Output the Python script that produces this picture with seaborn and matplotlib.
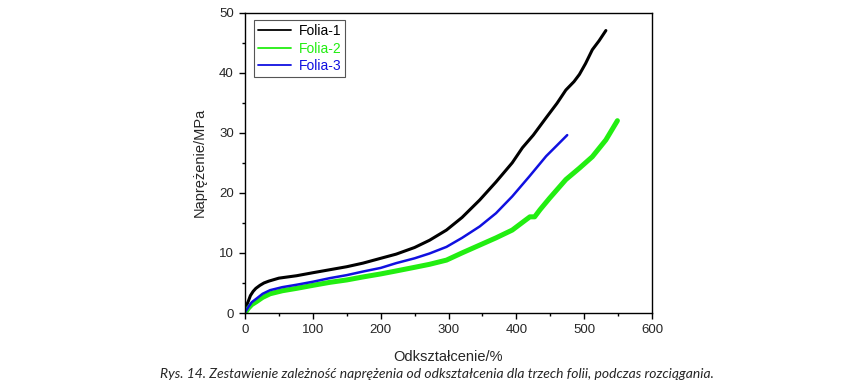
import matplotlib
matplotlib.use("Agg")
import matplotlib.pyplot as plt
from matplotlib.lines import Line2D
from matplotlib.ticker import MultipleLocator
import seaborn as sns
import pandas as pd

# values
folia1_x = [0, 2, 5, 8, 12, 16, 22, 28, 35, 50, 76, 100, 125, 150, 174, 200, 223, 250, 272, 297,
            320, 346, 370, 394, 409, 425, 444, 460, 473, 485, 493, 502, 512, 522, 532]
folia1_y = [0.5, 1.2, 2.0, 2.9, 3.6, 4.1, 4.6, 5.0, 5.3, 5.8, 6.2, 6.7, 7.2, 7.7, 8.3, 9.1, 9.8,
            10.9, 12.1, 13.8, 15.9, 18.8, 21.8, 25.0, 27.5, 29.6, 32.5, 34.9, 37.1, 38.5, 39.7,
            41.5, 43.8, 45.3, 47.0]

folia2_x = [0, 5, 10, 17, 26, 37, 55, 76, 100, 125, 150, 174, 200, 223, 250, 272, 297, 320, 346,
            370, 394, 414, 420, 427, 435, 449, 473, 493, 512, 532, 549]
folia2_y = [0.0, 0.8, 1.4, 1.9, 2.6, 3.2, 3.7, 4.1, 4.6, 5.1, 5.5, 6.0, 6.5, 7.0, 7.6, 8.1, 8.8,
            10.0, 11.3, 12.5, 13.8, 15.5, 16.0, 16.0, 17.2, 19.1, 22.2, 24.1, 26.0, 28.8, 32.0]

folia3_x = [0, 5, 10, 17, 26, 37, 55, 76, 100, 125, 150, 174, 200, 223, 250, 272, 297, 320, 346,
            370, 394, 419, 444, 460, 475]
folia3_y = [0.1, 1.0, 1.8, 2.4, 3.2, 3.8, 4.3, 4.7, 5.2, 5.8, 6.3, 6.9, 7.5, 8.3, 9.1, 9.9, 11.0,
            12.5, 14.4, 16.6, 19.4, 22.7, 26.1, 27.9, 29.6]

series_names = ["Folia-1", "Folia-2", "Folia-3"]
series_colors = ["#000000", "#22ee11", "#1010e0"]
series_widths = [2.2, 3.6, 1.8]

caption = "Rys. 14. Zestawienie zależność naprężenia od odkształcenia dla trzech folii, podczas rozciągania."

frames = []
for name, xs, ys in zip(series_names, [folia1_x, folia2_x, folia3_x], [folia1_y, folia2_y, folia3_y]):
    frames.append(pd.DataFrame({"x": xs, "y": ys, "seria": name}))
df = pd.concat(frames, ignore_index=True)

sns.set_style("ticks")
plt.rcParams["font.family"] = ["Liberation Sans", "DejaVu Sans"]

fig = plt.figure(figsize=(8.5, 3.89), dpi=100)
ax = fig.add_axes([245 / 850, 1 - 313 / 389, 407 / 850, 300.5 / 389])

for name, color, lw in zip(series_names, series_colors, series_widths):
    sns.lineplot(data=df[df["seria"] == name], x="x", y="y", color=color,
                 linewidth=lw, sort=False, estimator=None, ax=ax, legend=False)

ax.set_xlim(0, 600)
ax.set_ylim(0, 50)
ax.xaxis.set_major_locator(MultipleLocator(100))
ax.xaxis.set_minor_locator(MultipleLocator(50))
ax.yaxis.set_major_locator(MultipleLocator(10))
ax.yaxis.set_minor_locator(MultipleLocator(5))
ax.tick_params(which="major", direction="out", length=4.5, width=1, labelsize=9.5, color="black")
ax.tick_params(which="minor", direction="out", length=2.5, width=1, color="black")
for sp in ax.spines.values():
    sp.set_visible(True)
    sp.set_linewidth(1.0)
    sp.set_color("black")

ax.set_xlabel("Odkształcenie/%", fontsize=10.5, labelpad=10)
ax.set_ylabel("Naprężenie/MPa", fontsize=10.5, labelpad=9)

handles = [Line2D([], [], color=c, linewidth=1.3) for c in series_colors]
leg = ax.legend(handles, series_names, loc="upper left", bbox_to_anchor=(0.022, 0.975),
                borderaxespad=0, fontsize=10, handlelength=2.4, handletextpad=0.5,
                labelspacing=0.25, borderpad=0.3, fancybox=False, framealpha=1,
                edgecolor="#555555")
leg.get_frame().set_linewidth(0.8)
for txt, c in zip(leg.get_texts(), series_colors):
    txt.set_color(c)

fig.text(437 / 850, 1 - 374 / 389, caption, ha="center", va="center", fontsize=10,
         style="italic", family=["Lato", "DejaVu Sans"])

fig.savefig("out.png", dpi=100)
